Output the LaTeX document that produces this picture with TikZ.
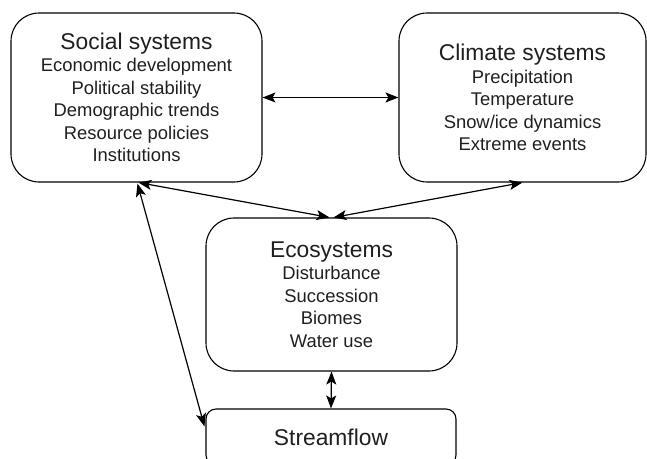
\documentclass[tikz,border=0pt]{standalone}
\usepackage{fontspec}
\setmainfont{Liberation Sans}
\usetikzlibrary{arrows.meta,calc}
\tikzset{
  sysbox/.style={draw, line width=1.1pt, rounded corners=28pt, inner sep=0pt, align=center,
    font=\fontsize{18.4}{22.5}\selectfont, text=black!88},
  link/.style={line width=1.2pt, {Stealth[length=13pt,width=10pt,inset=3pt]}-{Stealth[length=13pt,width=10pt,inset=3pt]}}
}
\newcommand{\ttl}[1]{{\fontsize{22.8}{22.5}\selectfont #1}}
\begin{document}
\begin{tikzpicture}[x=1pt,y=-1pt]
\useasboundingbox (0,0) rectangle (647,458);
\clip (0,0) rectangle (647,458);
\node[sysbox, minimum width=251pt, minimum height=169pt] (soc) at (136.5,97.5)
  {\ttl{Social systems}\\Economic development\\Political stability\\Demographic trends\\Resource policies\\Institutions};
\node[sysbox, minimum width=247pt, minimum height=169pt] (clim) at (522.5,97.5)
  {\ttl{Climate systems}\\Precipitation\\Temperature\\Snow/ice dynamics\\Extreme events};
\node[sysbox, minimum width=251pt, minimum height=153pt] (eco) at (331.5,294.5)
  {\ttl{Ecosystems}\\Disturbance\\Succession\\Biomes\\Water use};
\node[sysbox, rounded corners=10pt, minimum width=250pt, minimum height=56pt] (stream) at (331,437)
  {\ttl{Streamflow}};
\draw[link] (soc.east) -- (clim.west);
\draw[link] ($(soc.south west)+(128,0)$) -- ($(eco.north)+(-2,0)$);
\draw[link] ($(clim.south west)+(124,0)$) -- ($(eco.north)+(2,0)$);
\draw[link] ($(soc.south west)+(127,1)$) -- ($(stream.north west)+(-1,18)$);
\draw[link] (eco.south) -- (stream.north);
\end{tikzpicture}
\end{document}
